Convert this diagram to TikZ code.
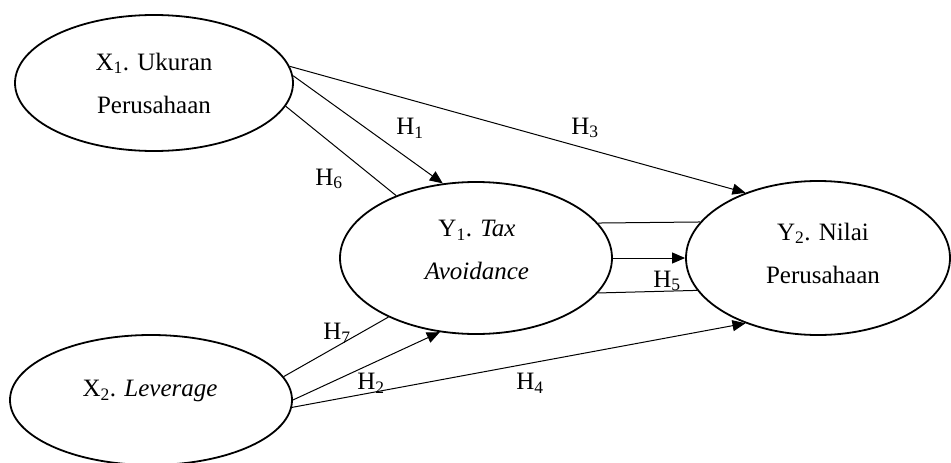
\documentclass[tikz,border=0pt]{standalone}
\usepackage{fontspec}
\setmainfont{Liberation Serif}
\usetikzlibrary{shapes.geometric,arrows.meta}
\begin{document}
\begin{tikzpicture}[x=1pt,y=-1pt,
  ell/.style={ellipse,draw,line width=1.8pt,inner sep=0pt},
  txt/.style={align=center,font=\fontsize{25}{43}\selectfont,inner sep=0pt},
  hlab/.style={font=\fontsize{25}{30}\selectfont,inner sep=0pt},
  conn/.style={line width=1pt},
  arr/.style={conn,-{Triangle[length=13pt,width=11pt]}}]
\useasboundingbox (0,0) rectangle (951,463);
% ellipses
\node[ell,minimum width=278pt,minimum height=136pt] (x1) at (154,83) {};
\node[ell,minimum width=272pt,minimum height=152pt] (y1) at (476,258) {};
\node[ell,minimum width=264pt,minimum height=154pt] (y2) at (818,258) {};
\node[ell,minimum width=282pt,minimum height=130pt] (x2) at (151,400) {};
% texts
\node[txt] (x1t) at (154,83) {X\textsubscript{1}. Ukuran\\Perusahaan};
\node[txt] (y1t) at (477,250) {Y\textsubscript{1}. \textit{Tax}\\\textit{Avoidance}};
\node[txt] (y2t) at (823,253) {Y\textsubscript{2}. Nilai\\Perusahaan};
\node[txt] (x2t) at (150,391) {X\textsubscript{2}. \textit{Leverage}};
% connectors
\draw[arr] (x1.3.7) -- (y1.114.3);
\draw[arr] (x1.7.1) -- (y2.138);
\draw[conn] (x1.-10.8) -- (y1.142.8);
\draw[conn] (x2.10) -- (y1.214);
\draw[arr] (x2.0) -- (y1.244);
\draw[arr] (x2.-3.6) -- (y2.222);
\draw[conn] (y1.16.4) -- (y2.163);
\draw[arr] (y1.0) -- (y2.180);
\draw[conn] (y1.-16.9) -- (y2.195);
% labels
\node[hlab] (h1) at (410,128) {H\textsubscript{1}};
\node[hlab] (h3) at (585,128) {H\textsubscript{3}};
\node[hlab] (h6) at (329,179) {H\textsubscript{6}};
\node[hlab] (h7) at (337,333) {H\textsubscript{7}};
\node[hlab] (h2) at (371,383) {H\textsubscript{2}};
\node[hlab] (h4) at (530,383) {H\textsubscript{4}};
\node[hlab] (h5) at (667,281) {H\textsubscript{5}};
\end{tikzpicture}
\end{document}
